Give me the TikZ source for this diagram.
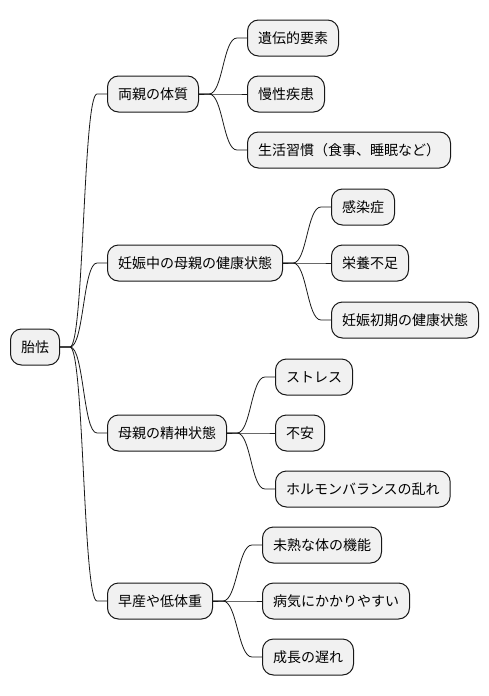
\documentclass[tikz,border=0pt]{standalone}
\usepackage{fontspec}
\setmainfont{Noto Sans CJK JP}
\usetikzlibrary{calc}
\definecolor{boxfill}{HTML}{F1F1F1}
\definecolor{ink}{HTML}{181818}
\tikzset{
  mnode/.style={draw=ink, fill=boxfill, line width=1pt, rounded corners=11pt,
    anchor=west, inner xsep=10.5pt, inner ysep=0pt, minimum height=36pt,
    font=\fontsize{14pt}{16pt}\selectfont, text=black},
  link/.style={draw=ink, line width=0.8pt}
}
\newcommand\mmconn[2]{\draw[link] (#1.east) -- ++(10,0) .. controls +(14,0) and +(-14,0) .. ($(#2.west)+(-10pt,0)$) -- (#2.west);}
\begin{document}
\begin{tikzpicture}[x=1pt,y=-1pt]
\useasboundingbox (0,0) rectangle (488,696);
\node[mnode] (root) at (10,347) {胎怯};
\node[mnode] (a) at (107,94) {両親の体質};
\node[mnode] (b) at (107,263) {妊娠中の母親の健康状態};
\node[mnode] (c) at (107,433) {母親の精神状態};
\node[mnode] (d) at (107,601) {早産や低体重};
\node[mnode] (a1) at (247,38) {遺伝的要素};
\node[mnode] (a2) at (247,94) {慢性疾患};
\node[mnode] (a3) at (247,150) {生活習慣（食事、睡眠など）};
\node[mnode] (b1) at (331,207) {感染症};
\node[mnode] (b2) at (331,263) {栄養不足};
\node[mnode] (b3) at (331,320) {妊娠初期の健康状態};
\node[mnode] (c1) at (275,377) {ストレス};
\node[mnode] (c2) at (275,433) {不安};
\node[mnode] (c3) at (275,489) {ホルモンバランスの乱れ};
\node[mnode] (d1) at (262,545) {未熟な体の機能};
\node[mnode] (d2) at (262,601) {病気にかかりやすい};
\node[mnode] (d3) at (262,657) {成長の遅れ};
\mmconn{root}{a}
\mmconn{root}{b}
\mmconn{root}{c}
\mmconn{root}{d}
\mmconn{a}{a1}
\mmconn{a}{a2}
\mmconn{a}{a3}
\mmconn{b}{b1}
\mmconn{b}{b2}
\mmconn{b}{b3}
\mmconn{c}{c1}
\mmconn{c}{c2}
\mmconn{c}{c3}
\mmconn{d}{d1}
\mmconn{d}{d2}
\mmconn{d}{d3}
\end{tikzpicture}
\end{document}
